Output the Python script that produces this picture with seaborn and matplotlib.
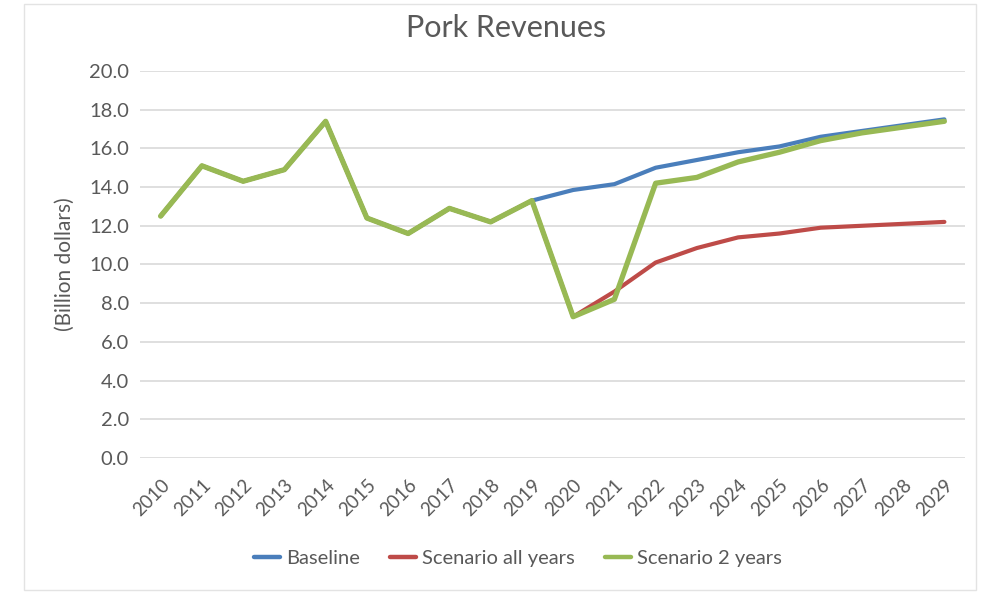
import matplotlib.pyplot as plt
import numpy as np
import pandas as pd
import seaborn as sns
from matplotlib.patches import Rectangle

sns.set_style("white")
plt.rcParams["font.family"] = ["Lato", "DejaVu Sans"]

years = list(range(2010, 2030))
history = [12.5, 15.1, 14.3, 14.9, 17.4, 12.4, 11.6, 12.9, 12.2, 13.3]
baseline = history + [13.85, 14.15, 15.0, 15.4, 15.8, 16.1, 16.6, 16.9, 17.2, 17.5]
scenario_all = history + [7.3, 8.6, 10.1, 10.85, 11.4, 11.6, 11.9, 12.0, 12.1, 12.2]
scenario_2 = history + [7.3, 8.2, 14.2, 14.5, 15.3, 15.8, 16.4, 16.8, 17.1, 17.4]

series_names = ["Baseline", "Scenario all years", "Scenario 2 years"]
palette = {
    "Baseline": "#4A7EBB",
    "Scenario all years": "#BE4B48",
    "Scenario 2 years": "#98B954",
}
widths = {"Baseline": 3.0, "Scenario all years": 3.0, "Scenario 2 years": 3.8}

df = pd.DataFrame(
    {
        "year": years * 3,
        "value": baseline + scenario_all + scenario_2,
        "series": np.repeat(series_names, len(years)),
    }
)

grey = "#595959"

fig = plt.figure(figsize=(9.84, 5.93), dpi=100)
ax = fig.add_axes([0.1423, 0.2277, 0.8384, 0.6526])

for name in series_names:
    sns.lineplot(
        data=df[df["series"] == name],
        x="year",
        y="value",
        color=palette[name],
        linewidth=widths[name],
        ax=ax,
        legend=False,
    )

ax.set_xlim(2009.5, 2029.5)
ax.set_ylim(0, 20)
ax.set_yticks(np.arange(0, 21, 2))
ax.set_yticklabels([f"{v:.1f}" for v in np.arange(0, 21, 2)])
ax.set_xticks(years)
ax.set_xticklabels([str(y) for y in years], rotation=45, ha="right",
                   rotation_mode="anchor")
ax.tick_params(axis="y", length=0, labelsize=14.5, colors=grey, pad=8)
ax.tick_params(axis="x", length=0, labelsize=13.5, colors=grey, pad=13)
ax.grid(axis="y", color="#D9D9D9", linewidth=1.2)
ax.set_axisbelow(True)
for s in ax.spines.values():
    s.set_visible(False)

ax.set_xlabel("")
ax.set_ylabel("(Billion dollars)", fontsize=15, color=grey, labelpad=10)
fig.text(506 / 984, 1 - 28 / 593, "Pork Revenues", fontsize=22, color=grey,
         ha="center", va="center")

handles = [plt.Line2D([], [], color=palette[n], linewidth=3.2) for n in series_names]
fig.legend(handles, series_names, loc="center", bbox_to_anchor=(518 / 984, 1 - 558 / 593),
           ncol=3, frameon=False, fontsize=14.5, labelcolor=grey,
           handlelength=1.3, handletextpad=0.3, columnspacing=1.5)

fig.patches.append(Rectangle((24 / 984, 3 / 593), 952 / 984, 586 / 593,
                             transform=fig.transFigure, fill=False,
                             edgecolor="#E3E3E3", linewidth=1))

fig.savefig("out.png", dpi=100)
